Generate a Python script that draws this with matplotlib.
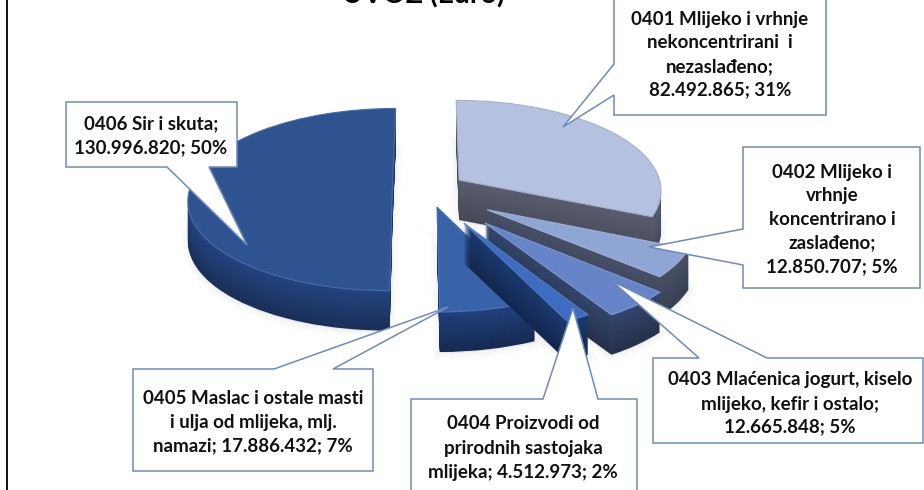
import numpy as np
import matplotlib
matplotlib.use("Agg")
import matplotlib.pyplot as plt
from matplotlib.transforms import Transform
from matplotlib.patches import Polygon

plt.rcParams['font.family'] = ['Lato', 'DejaVu Sans']

# ---- data ----
codes = ['0401', '0402', '0403', '0404', '0405', '0406']
values = [82492865, 12850707, 12665848, 4512973, 17886432, 130996820]
label_texts = [
    "0401 Mlijeko i vrhnje\nnekoncentrirani  i\nnezaslađeno;\n82.492.865; 31%",
    "0402 Mlijeko i\nvrhnje\nkoncentrirano i\nzaslađeno;\n12.850.707; 5%",
    "0403 Mlaćenica jogurt, kiselo\nmlijeko, kefir i ostalo;\n12.665.848; 5%",
    "0404 Proizvodi od\nprirodnih sastojaka\nmlijeka; 4.512.973; 2%",
    "0405 Maslac i ostale masti\ni ulja od mlijeka, mlj.\nnamazi; 17.886.432; 7%",
    "0406 Sir i skuta;\n130.996.820; 50%",
]
title_text = "UVOZ (Euro)"

# ---- style ----
top_colors = ['#b4c1df', '#8fa5d3', '#6585c8', '#3d6cc0', '#3a62a8', '#2f5290']
rim_colors = ['#a4b0cc', '#a0b2da', '#7c98d4', '#4f7ac8', '#4c74b8', '#4a6ca6']
side_hi = ['#585c6e', '#485068', '#34466c', '#1c3a70', '#21417c', '#234480']
side_lo = ['#464a58', '#383f52', '#26304a', '#12274e', '#152a52', '#1a2f58']
draw_order = [0, 5, 1, 2, 4, 3]  # back to front
centers = {0: (.155, .211), 1: (.285, -.115), 2: (.27, -.254),
           3: (.17, -.255), 4: (.0435, -.086), 5: (-.176, .10)}
DEPTH = 40
CX, CY, A, B, K = 428., 199., 205., 92., .107
edge = '#6f8ab8'

# callout box: left, right, top, bottom; pointer: three points; text centre x, line ys
callouts = [
    dict(box=(614, 826, -2, 115), ptr=[(614, 95), (563, 127), (614, 64)], side='left', cx=720, y=[19, 43, 67, 90]),
    dict(box=(743, 920, 147, 288), ptr=[(743, 265), (649, 247), (743, 229)], side='left', cx=832, y=[172, 195, 219, 243, 267]),
    dict(box=(653, 923, 358, 443), ptr=[(699, 358), (612, 281), (767, 358)], side='top', cx=790, y=[379, 404, 427]),
    dict(box=(411, 637, 399, 495), ptr=[(543, 399), (573, 308), (598, 399)], side='top', cx=523, y=[423, 448, 472]),
    dict(box=(133, 373, 369, 471), ptr=[(274, 369), (448, 307), (333, 369)], side='top', cx=253, y=[398, 422, 446]),
    dict(box=(66, 237, 102, 167), ptr=[(209, 167), (247, 245), (167, 167)], side='bottom', cx=151, y=[124, 148]),
]


class Persp(Transform):
    input_dims = output_dims = 2
    is_separable = False
    has_inverse = False

    def __init__(self, dy=0.0, dx=0.0):
        super().__init__()
        self.dy, self.dx = dy, dx

    def transform_non_affine(self, xy):
        xy = np.asarray(xy, float)
        w = 1 + K * xy[:, 1]
        return np.column_stack([CX + A * xy[:, 0] / w + self.dx,
                                CY - B * xy[:, 1] / w + self.dy])


fig = plt.figure(figsize=(9.24, 4.90), dpi=100, facecolor='white')
ax = fig.add_axes([0, 0, 1, 1])


def hexmix(a, b, t):
    ca, cb = np.array(matplotlib.colors.to_rgb(a)), np.array(matplotlib.colors.to_rgb(b))
    return tuple(ca * (1 - t) + cb * t)


def layer(dy, colors, zbase, **kw):
    wedges, _ = ax.pie(values, startangle=90, counterclock=False, radius=1.0,
                       colors=colors, wedgeprops=kw)
    for i, w in enumerate(wedges):
        w.set_center(centers[i])
        w.set_transform(Persp(dy) + ax.transData)
        w.set_zorder(zbase + draw_order.index(i) * 100)
    return wedges


# soft shadow
for lw in (10, 7, 4, 2):
    ws = layer(DEPTH + 1, ['#808080'] * 6, 0.5, linewidth=lw, edgecolor='#808080', alpha=.025)
    for w in ws:
        w.set_zorder(0.5)

# side walls, stacked from the bottom up
for d in range(DEPTH, 0, -1):
    t = d / DEPTH
    cols = [hexmix(side_hi[i], side_lo[i], t) for i in range(6)]
    layer(d, cols, 10 + (DEPTH - d), linewidth=0)

# top faces
ws = layer(0, top_colors, 80, linewidth=0.8)
for w, c in zip(ws, rim_colors):
    w.set_edgecolor(c)

ax.set_aspect('auto')
ax.set_xlim(0, 924)
ax.set_ylim(490, 0)
ax.axis('off')

# frame line on the left
ax.plot([7, 7], [0, 490], color='black', lw=1.3, zorder=1, clip_on=False)

# title, cut by the top of the picture
ax.text(423, 3.5, title_text, ha='center', va='baseline', fontsize=20.4,
        fontweight='bold', color='black', zorder=2000)

# callouts
for c, txt in zip(callouts, label_texts):
    l, r, t, b = c['box']
    p = c['ptr']
    if c['side'] == 'left':
        pts = [(l, t), (r, t), (r, b), (l, b)] + p
    elif c['side'] == 'top':
        pts = [(l, t)] + p + [(r, t), (r, b), (l, b)]
    else:  # bottom, from right to left
        pts = [(l, t), (r, t), (r, b)] + p + [(l, b)]
    ax.add_patch(Polygon(pts, closed=True, facecolor='white', edgecolor=edge, lw=1.1,
                         zorder=1000, clip_on=True))
    for line, y in zip(txt.split('\n'), c['y']):
        ax.text(c['cx'], y, line, ha='center', va='center', fontsize=13.5,
                fontweight='bold', color='#111111', zorder=1001)

fig.savefig('out.png', dpi=100)
